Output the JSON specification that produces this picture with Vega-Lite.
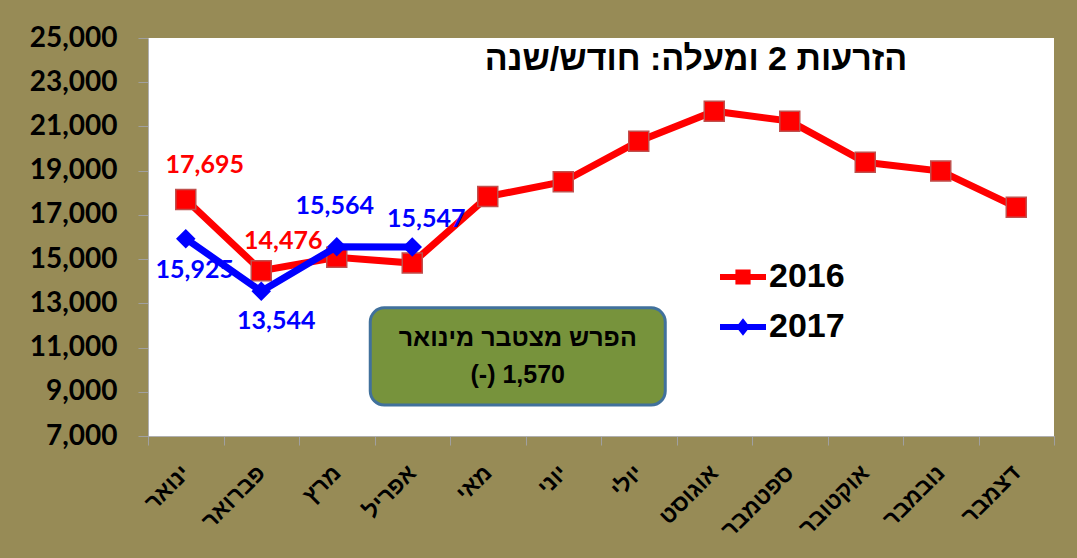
{
  "$schema": "https://vega.github.io/schema/vega-lite/v6.json",
  "width": 906,
  "height": 398,
  "autosize": {"type": "none"},
  "padding": {"left": 148, "top": 38, "right": 23, "bottom": 122},
  "background": "#978B56",
  "view": {"fill": "white", "stroke": null},
  "title": {
    "text": "הזרעות 2 ומעלה: חודש/שנה",
    "anchor": "middle",
    "dx": 95,
    "dy": 46,
    "offset": -34,
    "baseline": "alphabetic",
    "font": "Liberation Sans",
    "fontSize": 34,
    "fontWeight": "bold",
    "color": "black"
  },
  "datasets": {
    "main": [
      {"month": "ינואר", "m": 1, "year": "2016", "value": 17695},
      {"month": "פברואר", "m": 2, "year": "2016", "value": 14476},
      {"month": "מרץ", "m": 3, "year": "2016", "value": 15080},
      {"month": "אפריל", "m": 4, "year": "2016", "value": 14820},
      {"month": "מאי", "m": 5, "year": "2016", "value": 17830},
      {"month": "יוני", "m": 6, "year": "2016", "value": 18500},
      {"month": "יולי", "m": 7, "year": "2016", "value": 20330},
      {"month": "אוגוסט", "m": 8, "year": "2016", "value": 21690},
      {"month": "ספטמבר", "m": 9, "year": "2016", "value": 21240},
      {"month": "אוקטובר", "m": 10, "year": "2016", "value": 19380},
      {"month": "נובמבר", "m": 11, "year": "2016", "value": 18980},
      {"month": "דצמבר", "m": 12, "year": "2016", "value": 17350},
      {"month": "ינואר", "m": 1, "year": "2017", "value": 15925},
      {"month": "פברואר", "m": 2, "year": "2017", "value": 13544},
      {"month": "מרץ", "m": 3, "year": "2017", "value": 15564},
      {"month": "אפריל", "m": 4, "year": "2017", "value": 15547}
    ],
    "box": [
      {"month": "מאי", "value": 10600, "label": ["הפרש מצטבר מינואר", "(-) 1,570"]}
    ]
  },
  "data": {"name": "main"},
  "encoding": {
    "x": {
      "field": "month",
      "type": "nominal",
      "sort": ["ינואר", "פברואר", "מרץ", "אפריל", "מאי", "יוני", "יולי", "אוגוסט", "ספטמבר", "אוקטובר", "נובמבר", "דצמבר"],
      "scale": {"paddingInner": 0, "paddingOuter": 0},
      "axis": {
        "title": null,
        "labelAngle": -45,
        "labelAlign": "right",
        "labelBaseline": "middle",
        "labelFont": "Liberation Sans",
        "labelFontSize": 23,
        "labelFontWeight": "bold",
        "labelColor": "black",
        "tickBand": "extent",
        "tickSize": 9,
        "tickColor": "#A0A0A0",
        "domainColor": "#B0B0B0",
        "labelPadding": 24
      }
    },
    "y": {
      "field": "value",
      "type": "quantitative",
      "scale": {"domain": [7000, 25000], "nice": false, "zero": false},
      "axis": {
        "title": null,
        "values": [7000, 9000, 11000, 13000, 15000, 17000, 19000, 21000, 23000, 25000],
        "format": ",.0f",
        "grid": false,
        "labelFont": "Lato",
        "labelFontSize": 28,
        "labelFontWeight": "bold",
        "labelColor": "black",
        "tickSize": 10,
        "tickColor": "#A0A0A0",
        "domainColor": "#B0B0B0",
        "labelPadding": 21
      }
    }
  },
  "layer": [
    {
      "transform": [{"filter": "datum.year == '2016'"}],
      "mark": {"type": "line", "color": "#FF0000", "strokeWidth": 7}
    },
    {
      "transform": [{"filter": "datum.year == '2016'"}],
      "mark": {"type": "point", "shape": "square", "filled": true, "fill": "#FF0000", "stroke": "#C0504D", "strokeWidth": 1.5, "size": 400, "opacity": 1}
    },
    {
      "transform": [{"filter": "datum.year == '2017'"}],
      "mark": {"type": "line", "color": "#0000FF", "strokeWidth": 7}
    },
    {
      "transform": [{"filter": "datum.year == '2017'"}],
      "mark": {"type": "point", "shape": "diamond", "filled": true, "fill": "#0000FF", "strokeWidth": 0, "size": 380, "opacity": 1}
    },
    {
      "transform": [{"filter": "datum.year == '2016' && datum.m == 1"}],
      "mark": {"type": "text", "color": "#FF0000", "font": "Lato", "fontSize": 25, "fontWeight": "bold", "dx": 19, "dy": -35},
      "encoding": {"text": {"field": "value", "type": "quantitative", "format": ",.0f"}}
    },
    {
      "transform": [{"filter": "datum.year == '2016' && datum.m == 2"}],
      "mark": {"type": "text", "color": "#FF0000", "font": "Lato", "fontSize": 25, "fontWeight": "bold", "dx": 22, "dy": -30},
      "encoding": {"text": {"field": "value", "type": "quantitative", "format": ",.0f"}}
    },
    {
      "transform": [{"filter": "datum.year == '2017' && datum.m == 1"}],
      "mark": {"type": "text", "color": "#0000FF", "font": "Lato", "fontSize": 25, "fontWeight": "bold", "dx": 9, "dy": 31},
      "encoding": {"text": {"field": "value", "type": "quantitative", "format": ",.0f"}}
    },
    {
      "transform": [{"filter": "datum.year == '2017' && datum.m == 2"}],
      "mark": {"type": "text", "color": "#0000FF", "font": "Lato", "fontSize": 25, "fontWeight": "bold", "dx": 15, "dy": 30},
      "encoding": {"text": {"field": "value", "type": "quantitative", "format": ",.0f"}}
    },
    {
      "transform": [{"filter": "datum.year == '2017' && datum.m == 3"}],
      "mark": {"type": "text", "color": "#0000FF", "font": "Lato", "fontSize": 25, "fontWeight": "bold", "dx": -2, "dy": -41},
      "encoding": {"text": {"field": "value", "type": "quantitative", "format": ",.0f"}}
    },
    {
      "transform": [{"filter": "datum.year == '2017' && datum.m == 4"}],
      "mark": {"type": "text", "color": "#0000FF", "font": "Lato", "fontSize": 25, "fontWeight": "bold", "dx": 14, "dy": -28},
      "encoding": {"text": {"field": "value", "type": "quantitative", "format": ",.0f"}}
    },
    {
      "data": {"name": "box"},
      "mark": {
        "type": "point",
        "shape": "M-0.905,-0.329L0.905,-0.329A0.095,0.095 0 0 1 1,-0.234L1,0.234A0.095,0.095 0 0 1 0.905,0.329L-0.905,0.329A0.095,0.095 0 0 1 -1,0.234L-1,-0.234A0.095,0.095 0 0 1 -0.905,-0.329Z",
        "size": 87025,
        "filled": true,
        "fill": "#77933C",
        "stroke": "#41719C",
        "strokeWidth": 3,
        "opacity": 1,
        "xOffset": 30
      }
    },
    {
      "data": {"name": "box"},
      "mark": {"type": "text", "font": "Liberation Sans", "fontSize": 25, "fontWeight": "bold", "color": "black", "lineHeight": 37, "baseline": "middle", "xOffset": 30, "dy": -18},
      "encoding": {"text": {"field": "label"}}
    },
    {
      "transform": [{"filter": "false"}],
      "mark": {"type": "point", "filled": true, "opacity": 1},
      "encoding": {
        "shape": {
          "field": "year",
          "type": "nominal",
          "scale": {
            "domain": ["2016", "2017"],
            "range": [
              "M-1,-0.13L1,-0.13L1,0.13L-1,0.13Z M-0.33,-0.33L0.33,-0.33L0.33,0.33L-0.33,0.33Z",
              "M-1,-0.13L1,-0.13L1,0.13L-1,0.13Z M0,-0.38L0.3,0L0,0.38L-0.3,0Z"
            ]
          },
          "legend": {
            "orient": "none",
            "legendX": 572,
            "legendY": 216,
            "title": null,
            "padding": 0,
            "symbolSize": 2116,
            "symbolStrokeWidth": 0,
            "symbolOpacity": 1,
            "labelFont": "Liberation Sans",
            "labelFontSize": 34,
            "labelFontWeight": "bold",
            "labelColor": "black",
            "labelOffset": 3,
            "rowPadding": 10
          }
        },
        "color": {
          "field": "year",
          "type": "nominal",
          "scale": {"domain": ["2016", "2017"], "range": ["#FF0000", "#0000FF"]},
          "legend": {
            "orient": "none",
            "legendX": 572,
            "legendY": 216,
            "title": null,
            "padding": 0,
            "symbolSize": 2116,
            "symbolStrokeWidth": 0,
            "symbolOpacity": 1,
            "labelFont": "Liberation Sans",
            "labelFontSize": 34,
            "labelFontWeight": "bold",
            "labelColor": "black",
            "labelOffset": 3,
            "rowPadding": 10
          }
        }
      }
    }
  ]
}
